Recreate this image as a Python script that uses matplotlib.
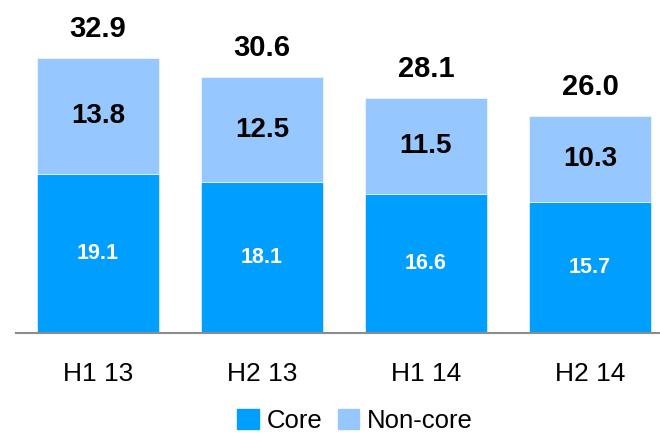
import matplotlib.pyplot as plt
from matplotlib.patches import Patch

# data
periods = ['H1 13', 'H2 13', 'H1 14', 'H2 14']
core = [19.1, 18.1, 16.6, 15.7]
noncore = [13.8, 12.5, 11.5, 10.3]
totals = [32.9, 30.6, 28.1, 26.0]

core_col = '#009EFF'
noncore_col = '#96C8FF'
font = ['Liberation Sans Narrow', 'Liberation Sans']

fig = plt.figure(figsize=(6.6, 4.34), dpi=100)
ax = fig.add_axes([16 / 660, 101 / 434, 656 / 660, 300.6 / 434])

x = range(len(periods))
b1 = ax.bar(x, core, width=0.74, color=core_col, edgecolor='white', linewidth=0.4)
b2 = ax.bar(x, noncore, width=0.74, bottom=core, color=noncore_col,
            edgecolor='white', linewidth=0.4)

for i in x:
    ax.text(i, core[i] / 2, f'{core[i]:.1f}', ha='center', va='center',
            color='white', fontsize=15.5, fontweight='bold', family=font)
    ax.text(i, core[i] + noncore[i] / 2, f'{noncore[i]:.1f}', ha='center',
            va='center', color='black', fontsize=20, fontweight='bold',
            family=font)
    ax.text(i, totals[i] + 3.5, f'{totals[i]:.1f}', ha='center', va='center',
            color='black', fontsize=21, fontweight='bold', family=font)

ax.set_xlim(-0.5, 3.5)
ax.set_ylim(0, 36)
ax.set_xticks(list(x))
ax.set_xticklabels(periods, family=font, fontsize=19)
ax.tick_params(axis='x', length=0, pad=21)
ax.set_yticks([])
for s in ['top', 'right', 'left']:
    ax.spines[s].set_visible(False)
ax.spines['bottom'].set_color('#8C8C8C')
ax.spines['bottom'].set_linewidth(1.5)

handles = [Patch(color=core_col, label='Core'),
           Patch(color=noncore_col, label='Non-core')]
fig.legend(handles=handles, loc='center', bbox_to_anchor=(355 / 660, 1 - 421 / 434),
           ncol=2, frameon=False, prop={'family': font, 'size': 18.5},
           handlelength=0.85, handleheight=0.85, handletextpad=0.3,
           columnspacing=0.6, borderpad=0)

fig.savefig('out.png', dpi=100)
